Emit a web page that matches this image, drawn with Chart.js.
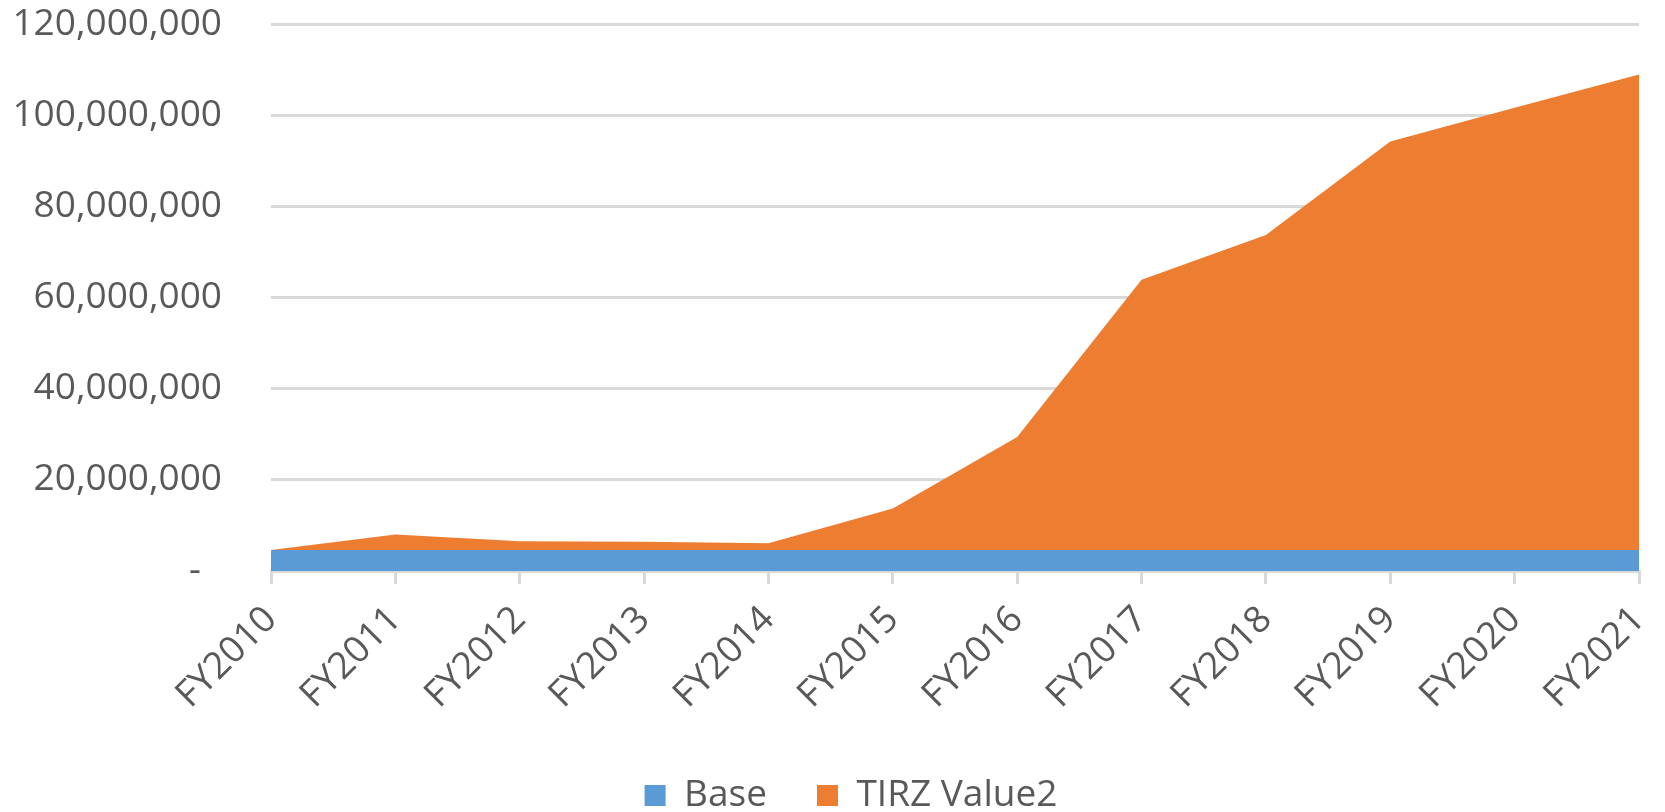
<!DOCTYPE html>
<html lang="en">
<head>
    <meta charset="UTF-8">
    <script src="https://cdn.jsdelivr.net/npm/chart.js"></script>
    <title>TIRZ Value</title>
    <style>
        body { margin: 0; background: #fff; }
    </style>
</head>
<body>
    <canvas id="myChart" width="1665" height="812"></canvas>
    <script>
        // data
        const years = ["FY2010","FY2011","FY2012","FY2013","FY2014","FY2015","FY2016","FY2017","FY2018","FY2019","FY2020","FY2021"];
        const baseValues = [4600000,4600000,4600000,4600000,4600000,4600000,4600000,4600000,4600000,4600000,4600000,4600000];
        const tirzValues = [0,3400000,1900000,1800000,1500000,9100000,24800000,59300000,69100000,89600000,97000000,104300000];
        const yTicks = [0,20000000,40000000,60000000,80000000,100000000,120000000];

        const txt = "#595959";
        const gridClr = "#d9d9d9";
        const fnt = { family: "'Open Sans', sans-serif", size: 37 };

        let ctx = document.getElementById("myChart");
        let configs = {
            type: 'line',
            data: {
                labels: years,
                datasets: [
                    { label: 'Base', data: baseValues, backgroundColor: '#5B9BD5', borderColor: '#5B9BD5',
                      borderWidth: 0, pointRadius: 0, fill: 'origin' },
                    { label: 'TIRZ Value2', data: tirzValues, backgroundColor: '#ED7D31', borderColor: '#ED7D31',
                      borderWidth: 0, pointRadius: 0, fill: '-1' }
                ]
            },
            options: {
                responsive: false,
                animation: false,
                // negative right padding only moves the legend centre to the right
                layout: { padding: { top: 0, right: -37, left: 0, bottom: -12 } },
                plugins: {
                    tooltip: { enabled: false },
                    legend: {
                        position: 'bottom',
                        labels: { color: txt, font: fnt, boxWidth: 21, boxHeight: 21, padding: 50 }
                    }
                },
                scales: {
                    x: {
                        afterFit: s => { s.paddingRight = 26; s.height = 156; },
                        grid: { display: true, drawOnChartArea: false, drawTicks: true, tickLength: 13,
                                color: gridClr, lineWidth: 3 },
                        border: { color: gridClr, width: 3 },
                        ticks: { color: txt, font: fnt, minRotation: 45, maxRotation: 45, padding: 14 }
                    },
                    y: {
                        stacked: true,
                        min: 0,
                        max: 120000000,
                        afterBuildTicks: s => { s.ticks = yTicks.map(v => ({ value: v })); },
                        afterFit: s => { s.width = 271; s.paddingTop = 24; s.paddingBottom = 24; },
                        grid: { color: gridClr, lineWidth: 3, drawTicks: false },
                        border: { display: false },
                        ticks: {
                            color: txt, font: fnt, padding: 49,
                            callback: v => v === 0 ? '-\u2007' : v.toLocaleString('en-US')
                        }
                    }
                }
            }
        };
        let myChart = new Chart(ctx, configs);
    </script>
</body>
</html>
